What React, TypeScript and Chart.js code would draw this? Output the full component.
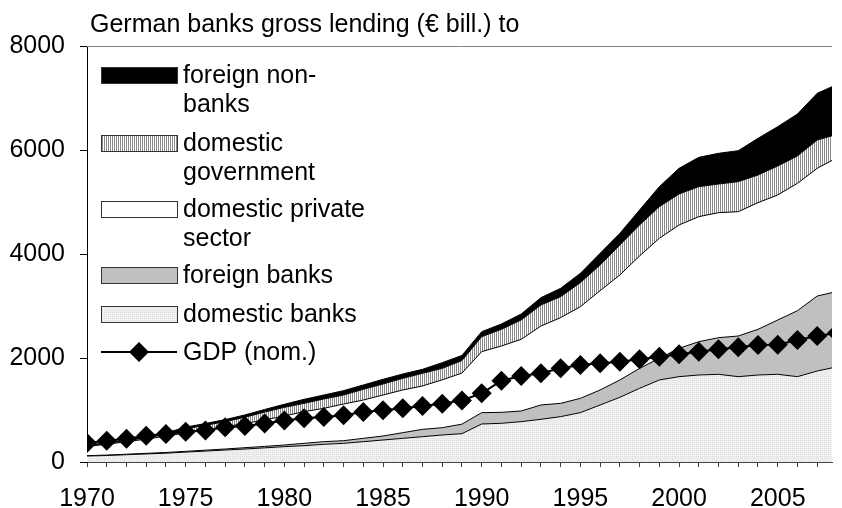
import React, { useEffect, useRef } from "react";
import { Chart, registerables } from "chart.js";

Chart.register(...registerables);

const FONT = '"Liberation Sans", Arial, sans-serif';

const years = [
  1970, 1971, 1972, 1973, 1974, 1975, 1976, 1977, 1978, 1979,
  1980, 1981, 1982, 1983, 1984, 1985, 1986, 1987, 1988, 1989,
  1990, 1991, 1992, 1993, 1994, 1995, 1996, 1997, 1998, 1999,
  2000, 2001, 2002, 2003, 2004, 2005, 2006, 2007, 2008,
];

// € bill., stacked from the bottom
const domesticBanks = [
  115, 125, 140, 155, 170, 190, 210, 230, 250, 272,
  295, 314, 340, 359, 391, 423, 455, 487, 519, 545,
  731, 744, 776, 821, 872, 949, 1096, 1244, 1417, 1577,
  1641, 1673, 1686, 1641, 1673, 1686, 1641, 1750, 1830,
];
const foreignBanks = [
  7, 8, 10, 12, 13, 15, 18, 20, 25, 28,
  32, 45, 51, 51, 64, 77, 109, 141, 141, 183,
  218, 211, 205, 275, 256, 275, 289, 333, 384, 417,
  545, 641, 705, 782, 878, 1045, 1269, 1442, 1450,
];
const domesticPrivate = [
  178, 207, 240, 273, 317, 355, 392, 430, 465, 508,
  558, 609, 641, 705, 737, 788, 821, 834, 920, 982,
  1173, 1276, 1378, 1519, 1648, 1763, 1910, 2019, 2161, 2307,
  2372, 2404, 2404, 2391, 2436, 2404, 2449, 2455, 2570,
];
const domesticGovernment = [
  15, 18, 20, 25, 35, 80, 85, 95, 120, 152,
  166, 160, 180, 173, 205, 212, 224, 243, 221, 240,
  288, 320, 372, 404, 403, 462, 493, 577, 596, 609,
  596, 577, 551, 577, 532, 557, 526, 545, 450,
];
const foreignNonBanks = [
  10, 12, 15, 20, 25, 30, 35, 40, 45, 50,
  59, 77, 76, 84, 84, 90, 83, 77, 109, 100,
  96, 103, 115, 141, 161, 179, 225, 224, 288, 385,
  493, 564, 590, 596, 705, 757, 807, 898, 960,
];
const gdp = [
  365, 410, 445, 505, 540, 580, 605, 670, 690, 740,
  800, 840, 865, 900, 960, 995, 1032, 1077, 1120, 1185,
  1321, 1564, 1654, 1705, 1801, 1865, 1897, 1929, 1974, 2026,
  2071, 2122, 2167, 2205, 2250, 2255, 2346, 2423, 2480,
];

const yTickValues = [0, 2000, 4000, 6000, 8000];
const xLabelEvery = 5;
const titleText = "German banks gross lending (\u20AC bill.) to";

const legendFNB = ["foreign non-", "banks"];
const legendGov = ["domestic", "government"];
const legendPriv = ["domestic private", "sector"];
const legendFB = ["foreign banks"];
const legendDB = ["domestic banks"];
const legendGDP = ["GDP (nom.)"];

function makePattern(w: number, h: number, draw: (c: CanvasRenderingContext2D) => void) {
  const c = document.createElement("canvas");
  c.width = w;
  c.height = h;
  const x = c.getContext("2d")!;
  draw(x);
  return x.createPattern(c, "repeat")!;
}

export default function App() {
  const ref = useRef<HTMLCanvasElement | null>(null);

  useEffect(() => {
    const canvas = ref.current!;
    const stripes = makePattern(2, 1, (x) => {
      x.fillStyle = "#ffffff";
      x.fillRect(0, 0, 2, 1);
      x.fillStyle = "#8a8a8a";
      x.fillRect(0, 0, 1, 1);
    });
    const dots = makePattern(2, 2, (x) => {
      x.fillStyle = "#f1f1f1";
      x.fillRect(0, 0, 2, 2);
      x.fillStyle = "#dcdcdc";
      x.fillRect(0, 0, 1, 1);
    });

    const pts = (arr: number[]) => arr.map((v, i) => ({ x: years[i], y: v }));

    const areaBase = {
      borderColor: "#000",
      borderWidth: 1,
      pointRadius: 0,
      pointHoverRadius: 0,
      tension: 0,
      stack: "lending",
    };

    const legendItems = [
      { lines: legendFNB, fill: "#000000" as any },
      { lines: legendGov, fill: stripes as any },
      { lines: legendPriv, fill: "#ffffff" as any },
      { lines: legendFB, fill: "#c0c0c0" as any },
      { lines: legendDB, fill: dots as any },
    ];
    const legendCenters = [75, 143, 209, 275, 314];
    const gdpLegendY = 352;

    const overlay = {
      id: "overlay",
      afterDraw(chart: any) {
        const ctx: CanvasRenderingContext2D = chart.ctx;
        const a = chart.chartArea;
        ctx.save();
        // plot-area top border
        ctx.strokeStyle = "#808080";
        ctx.lineWidth = 1;
        ctx.beginPath();
        ctx.moveTo(a.left, Math.round(a.top) + 0.5);
        ctx.lineTo(a.right, Math.round(a.top) + 0.5);
        ctx.stroke();

        // title
        ctx.fillStyle = "#000";
        ctx.font = `25px ${FONT}`;
        ctx.textAlign = "left";
        ctx.textBaseline = "middle";
        ctx.fillText(titleText, 90, 25);

        // legend
        const sx = 101, sw = 76, sh = 16, tx = 183, lh = 29;
        ctx.font = `25px ${FONT}`;
        legendItems.forEach((it, i) => {
          const cy = legendCenters[i];
          ctx.fillStyle = it.fill;
          ctx.fillRect(sx, cy - sh / 2, sw, sh);
          ctx.strokeStyle = "#333";
          ctx.lineWidth = 1;
          ctx.strokeRect(sx + 0.5, Math.round(cy - sh / 2) + 0.5, sw, sh);
          ctx.fillStyle = "#000";
          it.lines.forEach((t, j) => ctx.fillText(t, tx, cy + j * lh + 1));
        });
        // GDP legend
        ctx.strokeStyle = "#000";
        ctx.lineWidth = 2;
        ctx.beginPath();
        ctx.moveTo(sx, gdpLegendY);
        ctx.lineTo(sx + sw, gdpLegendY);
        ctx.stroke();
        const dx = 139, r = 10;
        ctx.fillStyle = "#000";
        ctx.beginPath();
        ctx.moveTo(dx - r, gdpLegendY);
        ctx.lineTo(dx, gdpLegendY - r);
        ctx.lineTo(dx + r, gdpLegendY);
        ctx.lineTo(dx, gdpLegendY + r);
        ctx.closePath();
        ctx.fill();
        ctx.fillText(legendGDP[0], tx, gdpLegendY + 1);
        ctx.restore();
      },
    };

    const chart = new Chart(canvas, {
      type: "line",
      data: {
        datasets: [
          { ...areaBase, label: "domestic banks", data: pts(domesticBanks), backgroundColor: dots, fill: "origin" },
          { ...areaBase, label: "foreign banks", data: pts(foreignBanks), backgroundColor: "#c0c0c0", fill: "-1" },
          { ...areaBase, label: "domestic private sector", data: pts(domesticPrivate), backgroundColor: "#ffffff", fill: "-1" },
          { ...areaBase, label: "domestic government", data: pts(domesticGovernment), backgroundColor: stripes, fill: "-1" },
          { ...areaBase, label: "foreign non-banks", data: pts(foreignNonBanks), backgroundColor: "#000000", fill: "-1" },
          {
            label: "GDP (nom.)",
            data: pts(gdp),
            stack: "gdp",
            order: -1,
            borderColor: "#000",
            borderWidth: 2,
            backgroundColor: "#000",
            pointStyle: "rectRot",
            pointRadius: 10,
            pointBorderWidth: 0,
            pointBackgroundColor: "#000",
            fill: false,
            tension: 0,
          } as any,
        ],
      },
      options: {
        animation: false,
        responsive: false,
        events: [],
        layout: { padding: { top: 46, right: 0, left: 0, bottom: 0 } },
        plugins: { legend: { display: false }, title: { display: false }, tooltip: { enabled: false } },
        scales: {
          x: {
            type: "linear",
            min: 1970,
            max: 2007.75,
            grid: { display: true, drawOnChartArea: false, drawTicks: true, tickLength: 5, color: "#404040" },
            border: { display: true, color: "#404040", width: 1 },
            ticks: {
              stepSize: 1,
              autoSkip: false,
              includeBounds: false,
              maxRotation: 0,
              padding: 17,
              color: "#000",
              font: { family: FONT, size: 25 },
              callback: (v: any) => (Number(v) % xLabelEvery === 0 ? String(v) : ""),
            },
            afterFit: (s: any) => {
              s.height = 46;
            },
          },
          y: {
            stacked: true,
            min: 0,
            max: 8000,
            grid: { display: true, drawOnChartArea: false, drawTicks: true, tickLength: 7, color: "#000" },
            border: { display: true, color: "#000", width: 1 },
            afterBuildTicks: (s: any) => {
              s.ticks = yTickValues.map((v) => ({ value: v }));
            },
            ticks: {
              padding: 15,
              color: "#000",
              font: { family: FONT, size: 25 },
              callback: (v: any) => String(v),
            },
            afterFit: (s: any) => {
              s.width = 87;
            },
          },
        },
      },
      plugins: [overlay],
    } as any);

    return () => chart.destroy();
  }, []);

  return (
    <div style={{ position: "fixed", left: 0, top: 0, width: 842, height: 508, background: "#fff" }}>
      <canvas ref={ref} width={842} height={508} style={{ display: "block", width: 842, height: 508 }} />
    </div>
  );
}
